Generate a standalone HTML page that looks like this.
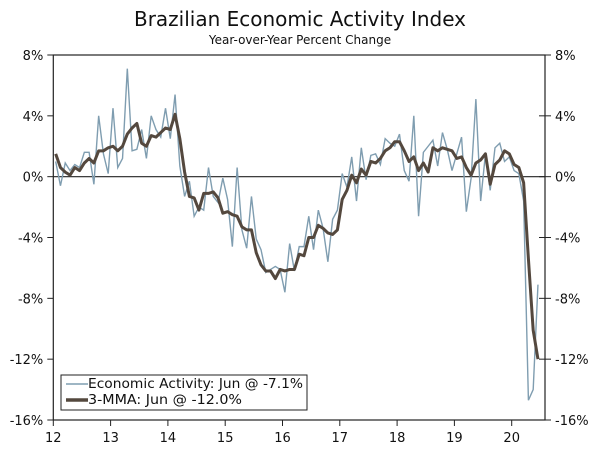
<!DOCTYPE html>
<html><head><meta charset="utf-8"><style>
body{margin:0;background:#fff;}
svg text{font-family:"DejaVu Sans","Liberation Sans",sans-serif;fill:#111;}
</style></head><body>
<svg width="600" height="449" viewBox="0 0 600 449" xmlns="http://www.w3.org/2000/svg">
<rect x="0" y="0" width="600" height="449" fill="#fff"/>
<text x="300" y="26" text-anchor="middle" font-size="20">Brazilian Economic Activity Index</text>
<text x="300" y="44" text-anchor="middle" font-size="12">Year-over-Year Percent Change</text>
<g id="axes"></g>
<g id="series"></g>
<g>
<rect x="61" y="375" width="246" height="35" fill="#fff" stroke="#222" stroke-width="1"/>
<line x1="66" y1="384" x2="88" y2="384" stroke="#7f9db0" stroke-width="1.5"/>
<text x="88" y="388" font-size="13.5" textLength="215" lengthAdjust="spacingAndGlyphs">Economic Activity: Jun @ -7.1%</text>
<line x1="66" y1="400" x2="88" y2="400" stroke="#54483e" stroke-width="3.5"/>
<text x="88" y="404" font-size="13.5" textLength="154" lengthAdjust="spacingAndGlyphs">3-MMA: Jun @ -12.0%</text>
</g>
</svg>
<script>
const yearLabels=["12","13","14","15","16","17","18","19","20"];
const yTicks=[8,4,0,-4,-8,-12,-16];
const activity=[1.0,-0.6,0.9,0.4,0.8,0.6,1.6,1.6,-0.5,4.0,1.5,0.2,
4.5,0.6,1.2,7.1,1.7,1.8,3.1,1.2,4.0,3.1,2.6,4.5,
2.5,5.4,0.7,-1.3,-0.3,-2.6,-2.0,-2.2,0.6,-1.3,-1.7,-0.1,
-1.5,-4.6,0.6,-3.5,-4.7,-1.3,-4.1,-4.8,-6.3,-6.1,-5.9,-6.1,
-7.6,-4.4,-6.2,-4.6,-4.6,-2.6,-4.8,-2.2,-3.4,-5.6,-2.8,-2.2,
0.2,-0.7,1.3,-1.6,1.9,-0.2,1.4,1.5,0.8,2.5,2.2,2.0,
2.8,0.4,-0.3,4.0,-2.6,1.6,2.0,2.4,0.7,2.9,1.8,0.4,
1.5,2.6,-2.3,-0.1,5.1,-1.6,1.5,-0.9,1.9,2.2,1.0,1.3,
0.4,0.2,-1.6,-14.7,-14.0,-7.1];
const mma=[1.5,0.6,0.3,0.1,0.6,0.4,0.9,1.2,0.9,1.7,1.7,1.9,
2.0,1.7,2.0,2.8,3.2,3.5,2.2,2.0,2.7,2.6,2.9,3.2,
3.1,4.1,2.5,0.3,-1.3,-1.4,-2.2,-1.1,-1.1,-1.0,-1.4,-2.4,
-2.3,-2.5,-2.6,-3.3,-3.5,-3.5,-5.0,-5.8,-6.2,-6.2,-6.7,-6.1,
-6.2,-6.1,-6.1,-5.1,-5.2,-4.0,-4.0,-3.2,-3.4,-3.7,-3.8,-3.5,
-1.5,-0.9,0.1,-0.4,0.5,0.1,1.0,0.9,1.2,1.7,1.9,2.3,
2.3,1.7,1.0,1.3,0.4,0.9,0.3,1.9,1.7,1.9,1.8,1.7,
1.2,1.3,0.6,0.1,0.9,1.1,1.5,-0.5,0.8,1.1,1.7,1.5,
0.8,0.6,-0.4,-5.4,-10.1,-12.0];
const L=53.3,R=545,T=55,B=420,YMAX=8,YMIN=-16;
const xm=i=>L+57.3*(i+0.5)/12;
const xy=y=>L+57.3*y;
const yv=v=>T+(YMAX-v)*(B-T)/(YMAX-YMIN);
const NS="http://www.w3.org/2000/svg";
function mk(t,a,p){const e=document.createElementNS(NS,t);for(const k in a)e.setAttribute(k,a[k]);p.appendChild(e);return e;}
const ax=document.getElementById('axes'),sr=document.getElementById('series');
let f=mk('rect',{x:L,y:T,width:R-L,height:B-T,fill:'none',stroke:'#222','stroke-width':1.2},ax);


yTicks.forEach(v=>{
 const y=yv(v);
 let t1=mk('line',{x1:L-6,x2:L,y1:y,y2:y,stroke:'#222'},ax);
 
 
 let t2=mk('line',{x1:R-6,x2:R+6,y1:y,y2:y,stroke:'#222'},ax);
 
 
 let a=mk('text',{x:L-10,y:y+5,'text-anchor':'end','font-size':13},ax);a.textContent=v+'%';
 
 
 let b=mk('text',{x:R+10,y:y+5,'text-anchor':'start','font-size':13},ax);b.textContent=v+'%';
 
 
});
let z=mk('line',{x1:L,x2:R,y1:yv(0),y2:yv(0),stroke:'#222','stroke-width':1.2},ax);


yearLabels.forEach((lab,i)=>{
 const x=xy(i);
 let t=mk('line',{x1:x,x2:x,y1:B,y2:B+6,stroke:'#222'},ax);
 
 
 let tx=mk('text',{x:x,y:442,'text-anchor':'middle','font-size':13},ax);tx.textContent=lab;
 
 
});
let p1=mk('polyline',{points:activity.map((v,i)=>xm(i)+','+yv(v)).join(' '),fill:'none',stroke:'#7f9db0','stroke-width':1.4},sr);


let p2=mk('polyline',{points:mma.map((v,i)=>xm(i)+','+yv(v)).join(' '),fill:'none',stroke:'#54483e','stroke-width':3,'stroke-linejoin':'round'},sr);


</script>
</body></html>
